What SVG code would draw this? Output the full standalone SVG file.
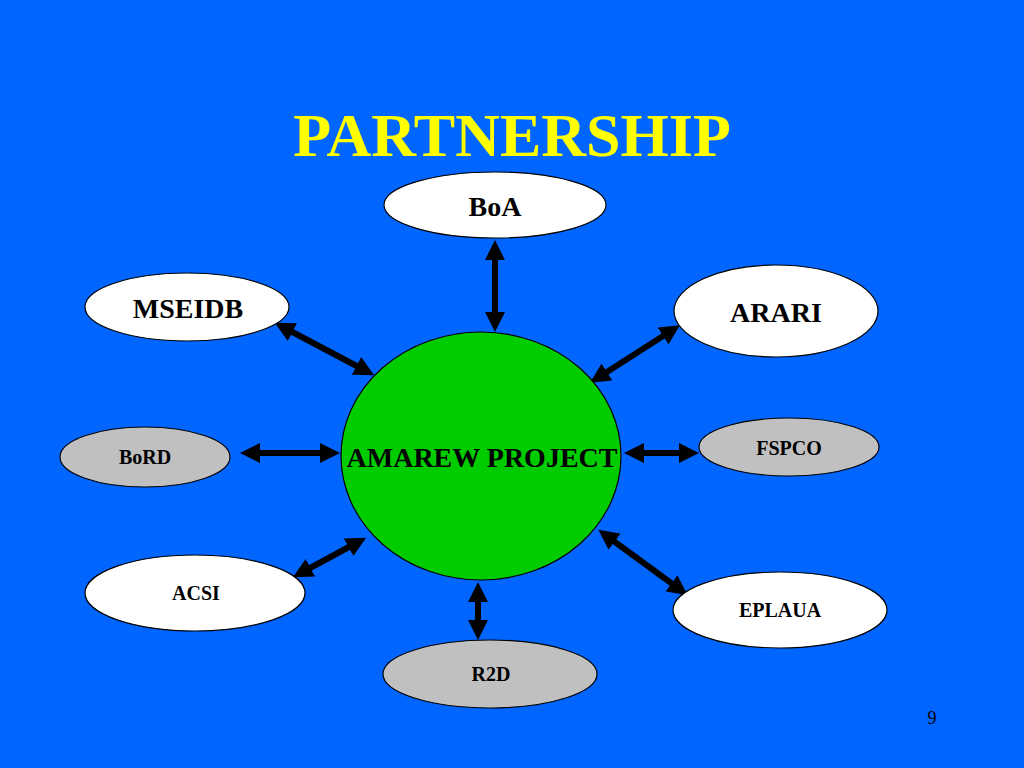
<svg xmlns="http://www.w3.org/2000/svg" width="1024" height="768" viewBox="0 0 1024 768">
<defs>
<marker id="ah" markerUnits="userSpaceOnUse" markerWidth="22" markerHeight="20" refX="13" refY="10" orient="auto-start-reverse">
<path d="M0,0 L20,10 L0,20 Z" fill="#000"/>
</marker>
<style>
.lbl{font-family:"Liberation Serif","Times New Roman",serif;font-weight:bold;fill:#000;text-anchor:middle}
.white{fill:#fff;stroke:#000;stroke-width:1.2}
.gray{fill:#c0c0c0;stroke:#000;stroke-width:1.2}
.conn{stroke:#000;stroke-width:6;fill:none;marker-start:url(#ah);marker-end:url(#ah)}
</style>
</defs>
<rect width="1024" height="768" fill="#0066ff"/>
<text x="512" y="156" font-family="'Liberation Serif','Times New Roman',serif" font-weight="bold" font-size="62" fill="#ffff00" text-anchor="middle">PARTNERSHIP</text>
<g id="connectors">
<line class="conn" x1="495" y1="247" x2="495" y2="325"/>
<line class="conn" x1="281" y1="326" x2="368" y2="372"/>
<line class="conn" x1="674" y1="329" x2="596" y2="379"/>
<line class="conn" x1="247" y1="453" x2="333" y2="453"/>
<line class="conn" x1="631" y1="453" x2="692" y2="453"/>
<line class="conn" x1="299" y1="574" x2="360" y2="541"/>
<line class="conn" x1="604" y1="534" x2="682" y2="591"/>
<line class="conn" x1="478" y1="589" x2="478" y2="633"/>
</g>
<g id="center">
<ellipse cx="481" cy="456" rx="140" ry="124" fill="#00cc00" stroke="#000" stroke-width="1.2"/>
<text class="lbl" x="482" y="467" font-size="28">AMAREW PROJECT</text>
</g>
<g id="boa">
<ellipse class="white" cx="495" cy="205" rx="111" ry="33"/>
<text class="lbl" x="495" y="216" font-size="28">BoA</text>
</g>
<g id="mseidb">
<ellipse class="white" cx="187" cy="307" rx="102" ry="34"/>
<text class="lbl" x="188" y="318" font-size="28">MSEIDB</text>
</g>
<g id="arari">
<ellipse class="white" cx="776" cy="311" rx="102" ry="46"/>
<text class="lbl" x="776" y="322" font-size="28">ARARI</text>
</g>
<g id="bord">
<ellipse class="gray" cx="145" cy="457" rx="85" ry="30"/>
<text class="lbl" x="145" y="464" font-size="20">BoRD</text>
</g>
<g id="fspco">
<ellipse class="gray" cx="789" cy="447" rx="90" ry="29"/>
<text class="lbl" x="789" y="455" font-size="20">FSPCO</text>
</g>
<g id="acsi">
<ellipse class="white" cx="195" cy="593" rx="110" ry="38"/>
<text class="lbl" x="196" y="600" font-size="20">ACSI</text>
</g>
<g id="eplaua">
<ellipse class="white" cx="780" cy="610" rx="107" ry="38"/>
<text class="lbl" x="780" y="617" font-size="20">EPLAUA</text>
</g>
<g id="r2d">
<ellipse class="gray" cx="490" cy="674" rx="107" ry="34"/>
<text class="lbl" x="491" y="681" font-size="20">R2D</text>
</g>
<text x="932" y="724" font-family="'Liberation Serif','Times New Roman',serif" font-size="18" fill="#000" text-anchor="middle">9</text>
</svg>
